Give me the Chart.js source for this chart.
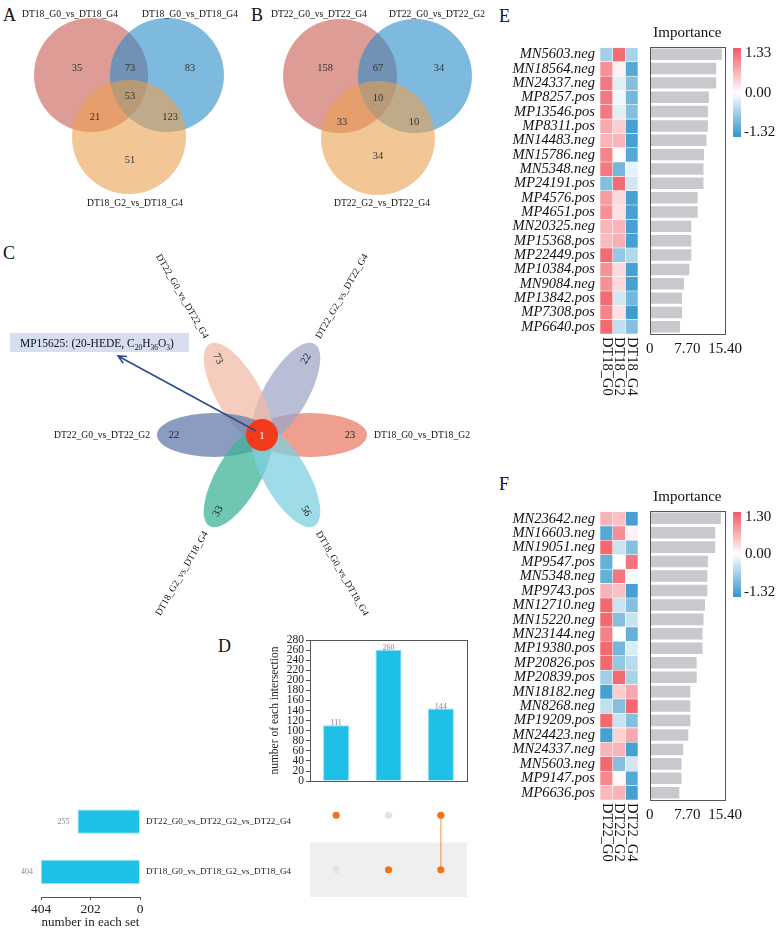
<!DOCTYPE html>
<html>
<head>
<meta charset="utf-8">
<script src="https://cdn.jsdelivr.net/npm/chart.js@4.4.0/dist/chart.umd.min.js"></script>
<style>
  body { margin: 0; background: #fff; }
  #page { position: relative; width: 783px; height: 930px; overflow: hidden; background: #fff; }
  #page canvas { position: absolute; }
  .tag { position: absolute; font-family: "Liberation Serif", "Times New Roman", serif; font-size: 18px; line-height: 18px; color: #111; }
</style>
</head>
<body>
<div id="page">
  <div class="tag" style="left:3px;top:6px">A</div>
  <div class="tag" style="left:251px;top:6px">B</div>
  <div class="tag" style="left:3px;top:244px">C</div>
  <div class="tag" style="left:218px;top:637px">D</div>
  <div class="tag" style="left:499px;top:7px">E</div>
  <div class="tag" style="left:499px;top:475px">F</div>

  <canvas id="vennA" width="245" height="215" style="left:0;top:0"></canvas>
  <canvas id="vennB" width="245" height="215" style="left:245px;top:0"></canvas>
  <canvas id="flower" width="490" height="405" style="left:0;top:225px"></canvas>
  <canvas id="upBars" width="207" height="160" style="left:265px;top:630px"></canvas>
  <canvas id="upMatrix" width="180" height="115" style="left:300px;top:785px"></canvas>
  <canvas id="upSets" width="300" height="145" style="left:0;top:785px"></canvas>
  <canvas id="heatE" width="140" height="420" style="left:500px;top:0"></canvas>
  <canvas id="impE" width="143" height="420" style="left:640px;top:0"></canvas>
  <canvas id="heatF" width="140" height="420" style="left:500px;top:464px"></canvas>
  <canvas id="impF" width="143" height="420" style="left:640px;top:464px"></canvas>
</div>

<script>
// ---- data ----

// Venn A / B: region counts in order
// [only 1, 1&2, only 2, 1&3, 1&2&3, 2&3, only 3]
const vennANames = ['DT18_G0_vs_DT18_G4', 'DT18_G0_vs_DT18_G4', 'DT18_G2_vs_DT18_G4'];
const vennACounts = [35, 73, 83, 21, 53, 123, 51];
const vennBNames = ['DT22_G0_vs_DT22_G4', 'DT22_G0_vs_DT22_G2', 'DT22_G2_vs_DT22_G4'];
const vennBCounts = [158, 67, 34, 33, 10, 10, 34];

// Flower C: petals counter-clockwise from the right
const petalNames = ['DT18_G0_vs_DT18_G2', 'DT22_G2_vs_DT22_G4', 'DT22_G0_vs_DT22_G4',
                    'DT22_G0_vs_DT22_G2', 'DT18_G2_vs_DT18_G4', 'DT18_G0_vs_DT18_G4'];
const petalCounts = [23, 22, 73, 22, 33, 56];
const coreCount = 1;
const coreNote = [['MP15625: (20-HEDE, C', 0], ['20', 1], ['H', 0], ['36', 1], ['O', 0], ['3', 1], [')', 0]];

// UpSet D
const upsetSets = ['DT22_G0_vs_DT22_G2_vs_DT22_G4', 'DT18_G0_vs_DT18_G2_vs_DT18_G4'];
const setSizes = [255, 404];
const setTicks = [0, 202, 404];
const intersectionSizes = [111, 260, 144];
const intersectionMembers = [[0], [1], [0, 1]];

// Heatmap + importance E
const eFeatures = ['MN5603.neg', 'MN18564.neg', 'MN24337.neg', 'MP8257.pos', 'MP13546.pos', 'MP8311.pos',
  'MN14483.neg', 'MN15786.neg', 'MN5348.neg', 'MP24191.pos', 'MP4576.pos', 'MP4651.pos', 'MN20325.neg',
  'MP15368.pos', 'MP22449.pos', 'MP10384.pos', 'MN9084.neg', 'MP13842.pos', 'MP7308.pos', 'MP6640.pos'];
const eGroups = ['DT18_G0', 'DT18_G2', 'DT18_G4'];
const eG0 = [-0.6, 0.9, 1.1, 1.1, 1.1, 0.7, 0.6, 1.0, 1.1, -0.8, 0.8, 0.9, 0.6, 0.55, 1.2, 0.9, 0.9, 1.2, 1.0, 1.2];
const eG2 = [1.2, 0.1, -0.2, -0.1, -0.2, 0.4, 0.6, 0.05, -0.9, 1.2, 0.3, 0.25, 0.6, 0.65, -0.7, 0.3, 0.3, -0.3, 0.25, -0.4];
const eG4 = [-0.55, -1.1, -0.8, -0.9, -0.8, -1.2, -1.2, -1.1, -0.15, -0.3, -1.2, -1.2, -1.2, -1.2, -0.5, -1.2, -1.2, -0.9, -1.25, -0.8];
const eImportance = [14.75, 13.6, 13.6, 12.1, 11.9, 11.9, 11.6, 11.1, 11.0, 11.0, 9.8, 9.8, 8.5, 8.5, 8.5, 8.1, 7.0, 6.6, 6.6, 6.2];
const eRange = [-1.32, 1.33];

// Heatmap + importance F
const fFeatures = ['MN23642.neg', 'MN16603.neg', 'MN19051.neg', 'MP9547.pos', 'MN5348.neg', 'MP9743.pos',
  'MN12710.neg', 'MN15220.neg', 'MN23144.neg', 'MP19380.pos', 'MP20826.pos', 'MP20839.pos', 'MN18182.neg',
  'MN8268.neg', 'MP19209.pos', 'MN24423.neg', 'MN24337.neg', 'MN5603.neg', 'MP9147.pos', 'MP6636.pos'];
const fGroups = ['DT22_G0', 'DT22_G2', 'DT22_G4'];
const fG0 = [0.6, -1.1, 1.2, -1.0, -1.0, 0.6, 1.2, 1.2, 1.0, 1.2, 1.2, -0.6, -1.2, -0.4, 1.2, -1.2, 0.6, 1.2, 0.95, 0.55];
const fG2 = [0.5, 0.9, -0.35, 0, 1.1, 0.5, -0.35, -0.8, 0, -0.9, -0.7, 1.2, 0.4, -0.8, -0.35, 0.35, 0.6, -0.8, 0.05, 0.6];
const fG4 = [-1.2, 0.1, -0.8, 1.1, -0.05, -1.2, -0.8, -0.35, -1.0, -0.25, -0.45, -0.55, 0.7, 1.2, -0.8, 0.7, -1.2, -0.3, -1.1, -1.2];
const fImportance = [14.55, 13.4, 13.4, 11.9, 11.8, 11.8, 11.3, 11.0, 10.8, 10.8, 9.6, 9.6, 8.3, 8.3, 8.3, 7.9, 6.85, 6.5, 6.5, 6.05];
const fRange = [-1.32, 1.30];

const importanceTicks = [0, 7.70, 15.40];

// ---- style / layout ----
const SERIF = '"Liberation Serif", "Times New Roman", serif';
Chart.defaults.font.family = SERIF;
Chart.defaults.color = '#222';
Chart.defaults.animation = false;
Chart.defaults.responsive = false;
Chart.defaults.plugins.legend.display = false;
Chart.defaults.plugins.tooltip.enabled = false;

const VENN_COLORS = ['rgba(200,90,80,0.6)', 'rgba(40,140,200,0.6)', 'rgba(235,160,80,0.6)'];
const vennLayoutA = {
  w: 245, h: 215, r: 57,
  circles: [[91, 75], [167, 75], [129, 137]],
  regions: [[77, 68], [130, 68], [190, 68], [95, 117], [130, 96], [170, 117], [130, 160]],
  names: [[70, 14], [190, 14], [135, 203]]
};
const vennLayoutB = {
  w: 245, h: 215, r: 57,
  circles: [[95, 76], [170, 76], [133, 138]],
  regions: [[80, 68], [133, 68], [194, 68], [97, 122], [133, 98], [169, 122], [133, 156]],
  names: [[74, 14], [192, 14], [137, 203]]
};

const FLOWER = { cx: 262, cy: 435, offset: 48, a: 57, b: 22, numDist: 88, nameDist: 112, core: 16 };
const petalAngles = [0, 60, 120, 180, 240, 300];
const petalColors = ['rgba(233,127,105,0.75)', 'rgba(155,165,197,0.72)', 'rgba(241,186,166,0.72)',
                     'rgba(101,123,171,0.75)', 'rgba(63,179,153,0.75)', 'rgba(128,207,224,0.75)'];

const CYAN = '#1ec0e6';
const ORANGE = '#f47216';
const RED = [242, 92, 100];
const BLUE = [52, 150, 204];

function zColor(v, lo, hi) {
  const t = v >= 0 ? Math.min(v / hi, 1) : Math.min(v / lo, 1);
  const end = v >= 0 ? RED : BLUE;
  const c = end.map(e => Math.round(255 + (e - 255) * t));
  return 'rgb(' + c.join(',') + ')';
}

// ---- plugins ----
const vennText = {
  id: 'vennText',
  afterDatasetsDraw(chart, args, opts) {
    const { ctx, scales: { x, y } } = chart;
    ctx.save();
    ctx.textAlign = 'center';
    ctx.textBaseline = 'middle';
    ctx.fillStyle = '#333';
    ctx.font = '10.5px ' + SERIF;
    opts.counts.forEach((n, i) => {
      const p = opts.lay.regions[i];
      ctx.fillText(n, x.getPixelForValue(p[0]), y.getPixelForValue(p[1]));
    });
    ctx.fillStyle = '#111';
    ctx.font = '9.6px ' + SERIF;
    opts.names.forEach((s, i) => {
      const p = opts.lay.names[i];
      ctx.fillText(s, x.getPixelForValue(p[0]), y.getPixelForValue(p[1]));
    });
    ctx.restore();
  }
};

const flowerPlugin = {
  id: 'flower',
  beforeDatasetsDraw(chart) {
    const { ctx, scales: { x, y } } = chart;
    const cx = x.getPixelForValue(FLOWER.cx), cy = y.getPixelForValue(FLOWER.cy);
    petalAngles.forEach((deg, i) => {
      const a = -deg * Math.PI / 180;
      ctx.save();
      ctx.translate(cx + Math.cos(a) * FLOWER.offset, cy + Math.sin(a) * FLOWER.offset);
      ctx.rotate(a);
      ctx.beginPath();
      ctx.ellipse(0, 0, FLOWER.a, FLOWER.b, 0, 0, Math.PI * 2);
      ctx.fillStyle = petalColors[i];
      ctx.fill();
      ctx.restore();
    });
  },
  afterDatasetsDraw(chart) {
    const { ctx, scales: { x, y } } = chart;
    const cx = x.getPixelForValue(FLOWER.cx), cy = y.getPixelForValue(FLOWER.cy);
    petalAngles.forEach((deg, i) => {
      const a = -deg * Math.PI / 180;
      const right = Math.cos(a) > 0.01;
      const rot = right ? a : a + Math.PI;
      // count inside petal
      ctx.save();
      ctx.translate(cx + Math.cos(a) * FLOWER.numDist, cy + Math.sin(a) * FLOWER.numDist);
      ctx.rotate(rot);
      ctx.font = '10.5px ' + SERIF;
      ctx.fillStyle = '#222';
      ctx.textAlign = 'center';
      ctx.textBaseline = 'middle';
      ctx.fillText(petalCounts[i], 0, 0);
      ctx.restore();
      // set name beyond the tip
      ctx.save();
      ctx.translate(cx + Math.cos(a) * FLOWER.nameDist, cy + Math.sin(a) * FLOWER.nameDist);
      ctx.rotate(rot);
      ctx.font = '9.6px ' + SERIF;
      ctx.fillStyle = '#111';
      ctx.textAlign = right ? 'left' : 'right';
      ctx.textBaseline = 'middle';
      ctx.fillText(petalNames[i], 0, 0);
      ctx.restore();
    });
    // core count
    ctx.save();
    ctx.font = '11px ' + SERIF;
    ctx.fillStyle = '#fff';
    ctx.textAlign = 'center';
    ctx.textBaseline = 'middle';
    ctx.fillText(coreCount, cx, cy + 1);
    // arrow to the note
    const bx = x.getPixelForValue(10), by = y.getPixelForValue(333);
    const ax = x.getPixelForValue(118), ay = y.getPixelForValue(356);
    const sx = cx - 6, sy = cy - 4;
    ctx.strokeStyle = '#2b4b8c';
    ctx.lineWidth = 1.6;
    ctx.beginPath();
    ctx.moveTo(sx, sy);
    ctx.lineTo(ax, ay);
    const ang = Math.atan2(ay - sy, ax - sx);
    ctx.moveTo(ax + Math.cos(ang + Math.PI - 0.45) * 9, ay + Math.sin(ang + Math.PI - 0.45) * 9);
    ctx.lineTo(ax, ay);
    ctx.lineTo(ax + Math.cos(ang + Math.PI + 0.45) * 9, ay + Math.sin(ang + Math.PI + 0.45) * 9);
    ctx.stroke();
    // note box
    ctx.fillStyle = '#d6dff0';
    ctx.fillRect(bx, by, 179, 19);
    ctx.fillStyle = '#111';
    ctx.textAlign = 'left';
    ctx.textBaseline = 'alphabetic';
    let tx = bx + 10;
    coreNote.forEach(([s, sub]) => {
      ctx.font = (sub ? '7.5px ' : '11.5px ') + SERIF;
      ctx.fillText(s, tx, by + 14 + (sub ? 2.5 : 0));
      tx += ctx.measureText(s).width;
    });
    ctx.restore();
  }
};

const frame = {
  id: 'frame',
  afterDraw(chart) {
    const { ctx, chartArea: c } = chart;
    ctx.save();
    ctx.strokeStyle = '#555';
    ctx.lineWidth = 1;
    ctx.strokeRect(Math.round(c.left) + 0.5, Math.round(c.top) + 0.5, Math.round(c.right - c.left), Math.round(c.bottom - c.top));
    ctx.restore();
  }
};

const barValues = {
  id: 'barValues',
  afterDatasetsDraw(chart, args, opts) {
    const { ctx } = chart;
    const meta = chart.getDatasetMeta(0);
    ctx.save();
    ctx.font = '8px ' + SERIF;
    ctx.fillStyle = '#888';
    meta.data.forEach((bar, i) => {
      const v = chart.data.datasets[0].data[i];
      if (opts.horizontal) {
        ctx.textAlign = 'right';
        ctx.textBaseline = 'middle';
        ctx.fillText(v, bar.x - 8, bar.y);
      } else {
        ctx.textAlign = 'center';
        ctx.textBaseline = 'bottom';
        ctx.fillText(v, bar.x, bar.y + 2);
      }
    });
    ctx.restore();
  }
};

const matrixBand = {
  id: 'matrixBand',
  beforeDatasetsDraw(chart) {
    const { ctx, chartArea: c, scales: { y } } = chart;
    ctx.save();
    ctx.fillStyle = '#efefef';
    upsetSets.forEach((s, r) => {
      if (r % 2 === 1) {
        const t = y.getPixelForValue(r - 0.5), b = y.getPixelForValue(r + 0.5);
        ctx.fillRect(c.left, t, c.right - c.left, b - t);
      }
    });
    ctx.restore();
  }
};

const heatCols = {
  id: 'heatCols',
  afterDraw(chart, args, opts) {
    const { ctx, chartArea: c, scales: { x } } = chart;
    ctx.save();
    ctx.font = '14.5px ' + SERIF;
    ctx.fillStyle = '#111';
    ctx.textAlign = 'left';
    ctx.textBaseline = 'middle';
    opts.groups.forEach((g, j) => {
      ctx.save();
      ctx.translate(x.getPixelForValue(j + 0.5), c.bottom + 3);
      ctx.rotate(Math.PI / 2);
      ctx.fillText(g, 0, 0);
      ctx.restore();
    });
    ctx.restore();
  }
};

const importanceDecor = {
  id: 'importanceDecor',
  afterDraw(chart, args, opts) {
    const { ctx, chartArea: c } = chart;
    ctx.save();
    ctx.font = '15px ' + SERIF;
    ctx.fillStyle = '#111';
    ctx.textAlign = 'center';
    ctx.textBaseline = 'middle';
    ctx.fillText('Importance', (c.left + c.right) / 2, c.top - 14);
    // colour key
    const kx = c.right + 8, ky = c.top + 1, kw = 8, kh = opts.keyHeight;
    const [lo, hi] = opts.range;
    const g = ctx.createLinearGradient(0, ky, 0, ky + kh);
    g.addColorStop(0, zColor(hi, lo, hi));
    g.addColorStop(hi / (hi - lo), '#ffffff');
    g.addColorStop(1, zColor(lo, lo, hi));
    ctx.fillStyle = g;
    ctx.fillRect(kx, ky, kw, kh);
    ctx.fillStyle = '#111';
    ctx.textAlign = 'left';
    ctx.fillText(hi.toFixed(2), kx + kw + 4, ky + 5);
    ctx.fillText('0.00', kx + kw + 4, ky + kh * hi / (hi - lo));
    ctx.fillText(lo.toFixed(2), kx + kw + 3, ky + kh - 5);
    ctx.restore();
  }
};

// ---- charts ----
function drawVenn(id, counts, names, lay) {
  new Chart(document.getElementById(id), {
    type: 'bubble',
    data: {
      datasets: [{
        data: lay.circles.map(c => ({ x: c[0], y: c[1], r: lay.r })),
        backgroundColor: VENN_COLORS,
        borderWidth: 0,
        clip: false
      }]
    },
    options: {
      layout: { padding: 0, autoPadding: false },
      scales: {
        x: { display: false, min: 0, max: lay.w },
        y: { display: false, min: 0, max: lay.h, reverse: true }
      },
      plugins: { vennText: { counts, names, lay } }
    },
    plugins: [vennText]
  });
}

drawVenn('vennA', vennACounts, vennANames, vennLayoutA);
drawVenn('vennB', vennBCounts, vennBNames, vennLayoutB);

new Chart(document.getElementById('flower'), {
  type: 'bubble',
  data: {
    datasets: [{
      data: [{ x: FLOWER.cx, y: FLOWER.cy, r: FLOWER.core }],
      backgroundColor: '#f23a1c',
      borderWidth: 0,
      clip: false
    }]
  },
  options: {
    layout: { padding: 0, autoPadding: false },
    scales: {
      x: { display: false, min: 0, max: 490 },
      y: { display: false, min: 225, max: 630, reverse: true }
    }
  },
  plugins: [flowerPlugin]
});

// UpSet: intersection sizes
new Chart(document.getElementById('upBars'), {
  type: 'bar',
  data: {
    labels: intersectionMembers.map(m => m.join('&')),
    datasets: [{
      data: intersectionSizes,
      backgroundColor: CYAN,
      borderColor: '#8fdcf0',
      borderWidth: 1,
      barPercentage: 0.5,
      categoryPercentage: 1
    }]
  },
  options: {
    layout: { padding: { top: 10, right: 5, bottom: 6, left: 0 }, autoPadding: false },
    scales: {
      x: { display: false },
      y: {
        min: 0, max: 280,
        ticks: { stepSize: 20, autoSkip: false, font: { size: 11.5 }, color: '#222', padding: 2 },
        grid: { drawOnChartArea: false, tickLength: 4, color: '#555' },
        border: { color: '#555' },
        title: { display: true, text: 'number of each intersection', font: { size: 11.5 }, color: '#222', padding: { top: 3, bottom: 0 } },
        afterFit: s => { s.width = 45; }
      }
    },
    plugins: { barValues: { horizontal: false } }
  },
  plugins: [frame, barValues]
});

// UpSet: membership matrix
const activeDots = [], inactiveDots = [], links = [];
intersectionMembers.forEach((m, i) => {
  upsetSets.forEach((s, r) => (m.includes(r) ? activeDots : inactiveDots).push({ x: i, y: r }));
  if (m.length > 1) links.push(m.map(r => ({ x: i, y: r })));
});
new Chart(document.getElementById('upMatrix'), {
  type: 'scatter',
  data: {
    datasets: [
      { data: activeDots, backgroundColor: ORANGE, pointRadius: 3.6, borderWidth: 0 },
      ...links.map(d => ({ data: d, showLine: true, borderColor: 'rgba(244,120,40,0.55)', borderWidth: 1.5, pointRadius: 0 })),
      { data: inactiveDots, backgroundColor: '#e2e2e2', pointRadius: 3.6, borderWidth: 0 }
    ]
  },
  options: {
    layout: { padding: { top: 3, bottom: 3, left: 10, right: 13 }, autoPadding: false },
    scales: {
      x: { display: false, min: -0.5, max: intersectionSizes.length - 0.5 },
      y: { display: false, min: -0.5, max: upsetSets.length - 0.5, reverse: true }
    }
  },
  plugins: [matrixBand]
});

// UpSet: set sizes
new Chart(document.getElementById('upSets'), {
  type: 'bar',
  data: {
    labels: upsetSets,
    datasets: [{
      data: setSizes,
      backgroundColor: CYAN,
      borderColor: '#8fdcf0',
      borderWidth: 1,
      barPercentage: 0.48,
      categoryPercentage: 1
    }]
  },
  options: {
    indexAxis: 'y',
    layout: { padding: { top: 3, left: 41, right: 0, bottom: 0 } },
    scales: {
      x: {
        reverse: true, min: 0, max: 404,
        afterBuildTicks: s => { s.ticks = setTicks.map(v => ({ value: v })); },
        ticks: { font: { size: 13.5 }, color: '#222', padding: 1, maxRotation: 0, minRotation: 0 },
        grid: { drawOnChartArea: false, tickLength: 3, color: '#555' },
        border: { color: '#555' },
        title: { display: true, text: 'number in each set', font: { size: 13 }, color: '#222', padding: 0 },
        afterFit: s => { s.height = 33; }
      },
      y: {
        position: 'right',
        grid: { display: false, drawTicks: false },
        border: { display: false },
        ticks: { font: { size: 9.1 }, color: '#222', padding: 6 },
        afterFit: s => { s.width = 160; }
      }
    },
    plugins: { barValues: { horizontal: true } }
  },
  plugins: [barValues]
});

// Heatmaps + importance bars
function drawHeat(id, features, groups, cols, range, areaTop, axisH) {
  new Chart(document.getElementById(id), {
    type: 'bar',
    data: {
      labels: features,
      datasets: cols.map((col, j) => ({
        label: groups[j],
        data: col.map(() => 1),
        backgroundColor: col.map(v => zColor(v, range[0], range[1])),
        borderColor: '#ffffff',
        borderWidth: 0.6,
        borderSkipped: false,
        barPercentage: 1,
        categoryPercentage: 1
      }))
    },
    options: {
      indexAxis: 'y',
      layout: { padding: { top: areaTop, right: 2, bottom: 0, left: 0 } },
      scales: {
        x: {
          stacked: true, min: 0, max: groups.length,
          ticks: { display: false }, grid: { display: false, drawTicks: false }, border: { display: false },
          afterFit: s => { s.height = axisH; }
        },
        y: {
          stacked: true,
          grid: { display: false, drawTicks: false }, border: { display: false },
          ticks: { autoSkip: false, font: { size: 14.5, style: 'italic' }, color: '#111', padding: 5 },
          afterFit: s => { s.width = 100; }
        }
      },
      plugins: { heatCols: { groups } }
    },
    plugins: [heatCols]
  });
}

function drawImportance(id, features, values, range, areaTop, axisH, keyHeight) {
  new Chart(document.getElementById(id), {
    type: 'bar',
    data: {
      labels: features,
      datasets: [{ data: values, backgroundColor: '#c8c8cd', barPercentage: 0.8, categoryPercentage: 1 }]
    },
    options: {
      indexAxis: 'y',
      layout: { padding: { top: areaTop, right: 58, bottom: 0, left: 6.5 } },
      scales: {
        x: {
          min: 0, max: importanceTicks[importanceTicks.length - 1],
          afterBuildTicks: s => { s.ticks = importanceTicks.map(v => ({ value: v })); },
          ticks: { font: { size: 15 }, color: '#111', padding: 6, maxRotation: 0, minRotation: 0, autoSkip: false,
                   callback: v => (v === 0 ? '0' : v.toFixed(2)) },
          grid: { display: false, drawTicks: false }, border: { display: false },
          afterFit: s => { s.height = axisH; }
        },
        y: { display: false }
      },
      plugins: { importanceDecor: { range, keyHeight } }
    },
    plugins: [frame, importanceDecor]
  });
}

drawHeat('heatE', eFeatures, eGroups, [eG0, eG2, eG4], eRange, 47.5, 86);
drawImportance('impE', eFeatures, eImportance, eRange, 47, 86, 89);
drawHeat('heatF', fFeatures, fGroups, [fG0, fG2, fG4], fRange, 47.5, 84);
drawImportance('impF', fFeatures, fImportance, fRange, 47, 84, 85);
</script>
</body>
</html>
